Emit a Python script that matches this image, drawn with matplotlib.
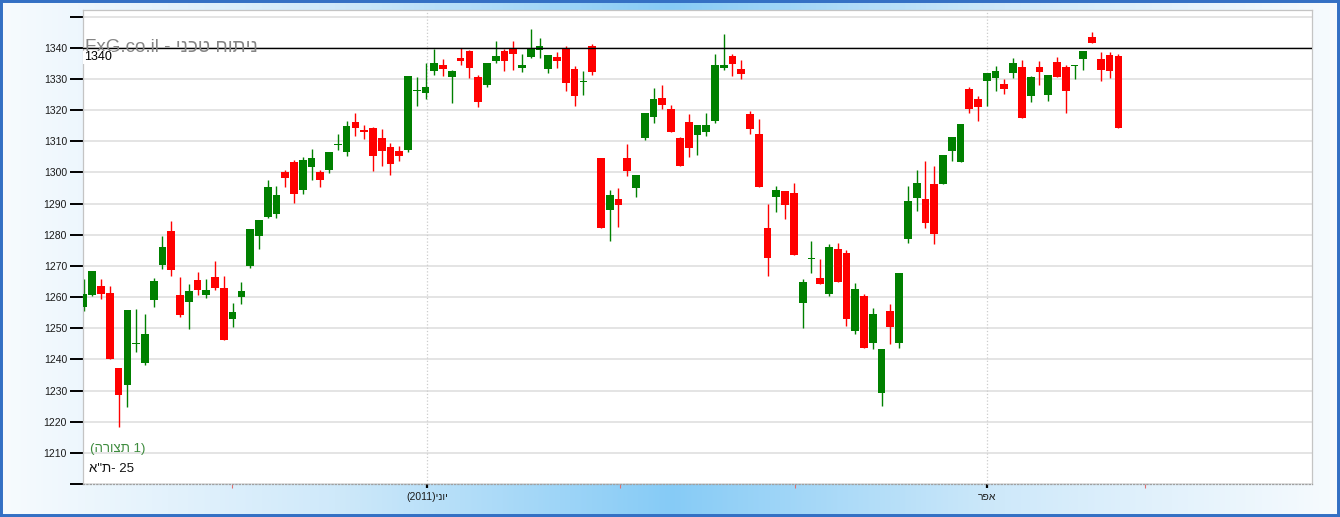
import numpy as np
import matplotlib
matplotlib.use('Agg')
import matplotlib.pyplot as plt
from matplotlib.patches import Rectangle
from matplotlib.colors import LinearSegmentedColormap

plt.rcParams['font.family'] = ['Liberation Sans', 'DejaVu Sans']

# candle data (one candle per trading session, index = position on the x axis)
opens = [1256.9, 1260.6, 1263.5, 1261.3, 1237.2, 1231.9, 1245.0, 1238.9, 1259.0, 1270.3,
         1281.2, 1260.6, 1258.4, 1265.5, 1260.6, 1266.4, 1262.9, 1253.0, 1260.1, 1269.9,
         1279.6, 1285.6, 1286.6, 1300.0, 1303.2, 1294.2, 1301.7, 1300.0, 1300.9, 1308.8,
         1306.6, 1316.3, 1313.4, 1314.3, 1310.9, 1308.2, 1307.0, 1307.2, 1326.1, 1325.4,
         1332.5, 1334.6, 1330.6, 1336.7, 1338.8, 1330.5, 1328.0, 1335.7, 1339.1, 1339.5,
         1333.6, 1337.0, 1339.4, 1333.3, 1337.0, 1339.5, 1333.3, 1329.0, 1340.7, 1304.5,
         1287.8, 1291.5, 1304.5, 1294.9, 1311.0, 1317.7, 1324.0, 1320.4, 1311.0, 1316.3,
         1312.1, 1312.9, 1316.4, 1333.6, 1337.2, 1333.3, 1318.6, 1312.2, 1282.1, 1292.2,
         1294.0, 1293.4, 1258.2, 1272.3, 1266.1, 1261.1, 1275.4, 1274.1, 1249.0, 1260.3,
         1245.3, 1229.3, 1255.5, 1245.3, 1278.6, 1291.8, 1291.3, 1296.4, 1296.4, 1306.8,
         1303.3, 1326.6, 1323.7, 1329.3, 1330.3, 1328.2, 1331.9, 1333.7, 1324.5, 1333.7,
         1324.8, 1335.3, 1333.7, 1334.1, 1336.4, 1343.3, 1336.3, 1337.5, 1337.2]
highs = [1265.7, 1268.3, 1265.7, 1263.4, 1237.2, 1255.7, 1256.0, 1254.4, 1266.0, 1279.5,
         1284.4, 1266.3, 1264.1, 1267.9, 1265.8, 1271.6, 1266.6, 1258.0, 1264.7, 1281.8,
         1284.7, 1297.5, 1295.6, 1300.9, 1303.9, 1304.9, 1307.5, 1300.9, 1306.5, 1312.2,
         1316.5, 1319.1, 1315.3, 1314.6, 1313.8, 1309.5, 1308.6, 1330.8, 1330.6, 1335.2,
         1339.7, 1336.5, 1333.0, 1339.8, 1339.4, 1331.3, 1335.1, 1342.0, 1339.7, 1342.0,
         1338.1, 1346.1, 1343.2, 1337.5, 1338.6, 1340.5, 1334.0, 1332.5, 1341.3, 1304.5,
         1294.4, 1295.0, 1309.2, 1299.0, 1319.2, 1327.2, 1328.1, 1321.7, 1311.3, 1318.8,
         1315.3, 1319.1, 1338.1, 1344.5, 1338.1, 1336.1, 1319.6, 1317.2, 1289.7, 1295.6,
         1294.0, 1296.5, 1265.7, 1277.9, 1272.1, 1276.9, 1277.2, 1275.1, 1264.6, 1260.9,
         1256.4, 1243.3, 1257.6, 1267.7, 1295.5, 1300.6, 1303.5, 1302.2, 1305.7, 1311.5,
         1315.4, 1327.3, 1324.4, 1331.8, 1334.0, 1330.0, 1336.8, 1335.9, 1330.8, 1335.6,
         1331.1, 1336.9, 1334.5, 1334.3, 1339.1, 1345.2, 1338.5, 1338.7, 1338.0]
lows = [1255.6, 1260.3, 1259.5, 1240.2, 1218.4, 1224.8, 1242.4, 1238.3, 1256.9, 1268.9,
        1266.7, 1253.5, 1249.7, 1260.6, 1259.7, 1262.2, 1246.3, 1250.5, 1257.8, 1269.4,
        1275.5, 1285.2, 1285.5, 1295.2, 1290.1, 1293.0, 1297.4, 1295.2, 1299.8, 1307.3,
        1305.4, 1311.6, 1310.7, 1300.4, 1302.0, 1299.2, 1303.8, 1306.5, 1321.2, 1323.6,
        1331.2, 1330.9, 1322.2, 1334.6, 1330.3, 1320.9, 1327.5, 1335.1, 1332.5, 1332.8,
        1332.2, 1336.8, 1336.8, 1332.0, 1333.5, 1326.1, 1321.3, 1324.8, 1331.1, 1282.2,
        1278.1, 1282.4, 1298.7, 1292.0, 1310.4, 1315.9, 1320.3, 1312.9, 1302.0, 1304.9,
        1305.6, 1311.6, 1315.8, 1332.7, 1330.9, 1329.9, 1312.3, 1295.4, 1266.8, 1287.4,
        1284.9, 1273.5, 1250.2, 1267.6, 1264.3, 1260.4, 1264.9, 1250.8, 1248.0, 1243.7,
        1243.2, 1225.0, 1244.8, 1243.7, 1277.3, 1287.6, 1282.1, 1276.9, 1296.2, 1303.5,
        1303.3, 1319.0, 1316.4, 1321.2, 1326.1, 1325.1, 1330.3, 1317.4, 1322.5, 1328.0,
        1322.9, 1330.6, 1319.0, 1329.9, 1332.8, 1341.5, 1329.3, 1330.3, 1314.2]
closes = [1260.9, 1268.3, 1261.0, 1240.2, 1228.7, 1255.7, 1245.2, 1248.1, 1265.1, 1276.0,
          1268.8, 1254.2, 1261.9, 1262.2, 1262.2, 1263.0, 1246.3, 1255.2, 1261.9, 1281.8,
          1284.7, 1295.3, 1292.7, 1298.1, 1293.0, 1304.1, 1304.6, 1297.4, 1306.5, 1309.0,
          1315.0, 1314.2, 1313.1, 1305.2, 1307.0, 1302.6, 1305.3, 1330.8, 1326.3, 1327.3,
          1335.1, 1333.1, 1332.5, 1335.7, 1333.5, 1322.7, 1335.1, 1337.2, 1335.7, 1338.0,
          1334.3, 1339.5, 1340.4, 1337.5, 1335.8, 1328.8, 1324.5, 1329.2, 1332.2, 1282.2,
          1292.6, 1289.4, 1300.3, 1299.0, 1319.2, 1323.6, 1321.6, 1312.9, 1302.0, 1307.8,
          1315.3, 1315.3, 1334.6, 1334.6, 1334.8, 1331.5, 1314.0, 1295.4, 1272.6, 1294.3,
          1289.5, 1273.5, 1264.8, 1272.5, 1264.3, 1276.0, 1264.9, 1253.0, 1262.6, 1243.7,
          1254.5, 1243.3, 1250.5, 1267.7, 1290.7, 1296.5, 1283.8, 1280.2, 1305.7, 1311.5,
          1315.4, 1320.3, 1320.9, 1331.8, 1332.4, 1326.7, 1335.0, 1317.4, 1330.5, 1332.2,
          1331.1, 1330.6, 1326.1, 1334.3, 1339.1, 1341.5, 1332.8, 1332.5, 1314.2]

level_line = 1340
y_ticks = list(range(1200, 1360, 10))
month_pos = [39.17, 103.02]
minor_month_pos = [16.93, 61.18, 81.13, 121.04]

# Hebrew runs are written in visual (left-to-right drawing) order,
# since matplotlib does not reorder right-to-left text itself
month_labels = ['(2011)ינוי', 'רפא']
title_text = 'FxG.co.il - ינכט חותינ'
legend_pattern = '(הרוצת 1)'
legend_index = 'א"ת- 25'

W, H = 1340, 517
fig = plt.figure(figsize=(W / 100, H / 100), dpi=100)

# background gradient (pale at the sides, light blue in the middle)
bg = fig.add_axes([0, 0, 1, 1], zorder=-5)
cmap = LinearSegmentedColormap.from_list('bgblue', ['#f7fbfe', '#cfe9fa', '#86cbf6', '#cfe9fa', '#f7fbfe'])
grad = np.linspace(0, 1, 512)[None, :]
bg.imshow(grad, cmap=cmap, aspect='auto', extent=[0, 1, 0, 1])
bg.set_xlim(0, 1)
bg.set_ylim(0, 1)
bg.axis('off')

fig.patches.append(Rectangle((0, 0), 1, 1, transform=fig.transFigure, fill=False,
                             edgecolor='#3470c4', linewidth=4.3, zorder=10))

left, right, top, bottom = 83, 1312, 10, 484
ax = fig.add_axes([left / W, 1 - bottom / H, (right - left) / W, (bottom - top) / H])
ax.set_facecolor('white')

x = np.arange(len(opens))
o = np.array(opens)
c = np.array(closes)
colors = np.where(c >= o, '#008000', '#ff0000')
body_lo = np.minimum(o, c)
body_h = np.maximum(np.abs(c - o), 0.35)

ax.vlines(x, lows, highs, colors=colors, linewidth=1.0, zorder=2)
ax.bar(x, body_h, bottom=body_lo, width=0.88, color=colors, linewidth=0, zorder=3)

ax.axhline(level_line, color='black', linewidth=1.0, zorder=4)

ax.set_xlim(-0.06, 140.08)
ax.set_ylim(1200, 1352.1)

ax.set_yticks(y_ticks)
ax.set_yticklabels(['' if (v == 1200 or v == 1350) else str(v) for v in y_ticks])
ax.tick_params(axis='y', length=9.5, width=1.4, color='black', pad=2,
               labelsize=7.5, labelcolor='#1a1a1a')
ax.grid(axis='y', color='#dddddd', linewidth=1.1, zorder=0)
ax.set_axisbelow(True)

ax.set_xticks(month_pos)
ax.set_xticklabels(month_labels)
ax.tick_params(axis='x', length=3, width=1.6, color='black', pad=3,
               labelsize=7.5, labelcolor='#1a1a1a')
ax.set_xticks(minor_month_pos, minor=True)
ax.tick_params(axis='x', which='minor', length=3, width=0.8, color='#e07070')
for p in month_pos:
    ax.axvline(p, color='#cccccc', linestyle=':', linewidth=0.9, zorder=1)

for side in ['left', 'top', 'right']:
    ax.spines[side].set_color('#c4c4c4')
    ax.spines[side].set_linewidth(0.9)
ax.spines['bottom'].set_color('#a0a0a0')
ax.spines['bottom'].set_linestyle(':')
ax.spines['bottom'].set_linewidth(0.9)

ax.text(0.002, level_line, title_text, transform=ax.get_yaxis_transform(),
        ha='left', va='center', fontsize=13.5, color='#858585', zorder=5)
ax.annotate(str(level_line), xy=(0, level_line), xycoords=ax.get_yaxis_transform(),
            xytext=(0.5, -2.5), textcoords='offset points', ha='left', va='top',
            fontsize=9, color='black', zorder=6,
            bbox=dict(boxstyle='square,pad=0.05', facecolor='white', edgecolor='none'))

ax.text(0.0058, 0.074, legend_pattern, transform=ax.transAxes, ha='left', va='center',
        fontsize=9.5, color='#3d8b3d', zorder=5)
ax.text(0.005, 0.032, legend_index, transform=ax.transAxes, ha='left', va='center',
        fontsize=9.5, color='#111111', zorder=5)

fig.savefig('out.png', dpi=100)
